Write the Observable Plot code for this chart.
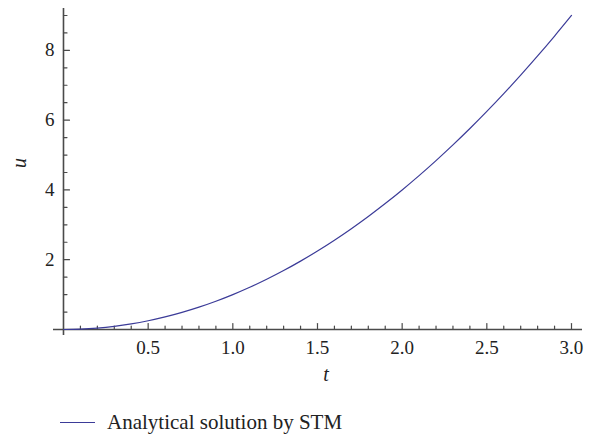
<!DOCTYPE html>
<html>
<head>
<meta charset="utf-8">
<script src="https://cdn.jsdelivr.net/npm/d3@7"></script>
<script src="https://cdn.jsdelivr.net/npm/@observablehq/plot@0.6"></script>
<style>
  body { margin: 0; background: #fff; }
  #chart { width: 591px; }
  .legend { height: 34px; display: flex; align-items: center; padding-left: 60px; font-family: "Liberation Serif", serif; font-size: 21px; color: #222; }
  .legend .sw { width: 35px; height: 0; border-top: 1.3px solid #3B3B98; margin-right: 12px; }
</style>
</head>
<body>
<div id="chart"></div>
<div class="legend"><span class="sw"></span><span>Analytical solution by STM</span></div>
<script>
// Data (analytical solution u(t))
const tValues = [0, 0.1, 0.2, 0.3, 0.4, 0.5, 0.6, 0.7, 0.8, 0.9, 1.0, 1.1, 1.2, 1.3, 1.4, 1.5, 1.6, 1.7, 1.8, 1.9, 2.0, 2.1, 2.2, 2.3, 2.4, 2.5, 2.6, 2.7, 2.8, 2.9, 3.0];
const uValues = [0, 0.01, 0.04, 0.09, 0.16, 0.25, 0.36, 0.49, 0.64, 0.81, 1.0, 1.21, 1.44, 1.69, 1.96, 2.25, 2.56, 2.89, 3.24, 3.61, 4.0, 4.41, 4.84, 5.29, 5.76, 6.25, 6.76, 7.29, 7.84, 8.41, 9.0];
const xTickLabels = ["0.5", "1.0", "1.5", "2.0", "2.5", "3.0"];
const xMajor = [0.5, 1.0, 1.5, 2.0, 2.5, 3.0];
const xMinor = [0.1, 0.2, 0.3, 0.4, 0.6, 0.7, 0.8, 0.9, 1.1, 1.2, 1.3, 1.4, 1.6, 1.7, 1.8, 1.9, 2.1, 2.2, 2.3, 2.4, 2.6, 2.7, 2.8, 2.9];
const yMajor = [2, 4, 6, 8];
const yTickLabels = ["2", "4", "6", "8"];
const yMinor = [0.5, 1, 1.5, 2.5, 3, 3.5, 4.5, 5, 5.5, 6.5, 7, 7.5, 8.5, 9];
const xLabel = "t";
const yLabel = "u";

const data = tValues.map((t, i) => ({t, u: uValues[i]}));
const axisColor = "#4a4a4a";
const lineColor = "#3B3B98";
const serif = "Liberation Serif";
const tickShape = {draw(ctx, l) { ctx.moveTo(0, 0); ctx.lineTo(0, -l); }};

const plot = Plot.plot({
  width: 591,
  height: 405,
  marginLeft: 53,
  marginRight: 9,
  marginTop: 8,
  marginBottom: 70,
  style: {background: "#fff"},
  x: {domain: [-0.059, 3.065], axis: null},
  y: {domain: [-0.172, 9.2], axis: null},
  marks: [
    Plot.ruleX([0], {stroke: axisColor, strokeWidth: 1.6}),
    Plot.ruleY([0], {stroke: axisColor, strokeWidth: 1.6}),
    Plot.vector(yMajor, {x: 0, y: d => d, rotate: 90, length: 6, anchor: "start", shape: tickShape, stroke: axisColor, strokeWidth: 1.2}),
    Plot.vector(yMinor, {x: 0, y: d => d, rotate: 90, length: 3.5, anchor: "start", shape: tickShape, stroke: axisColor, strokeWidth: 1.2}),
    Plot.vector(xMajor, {x: d => d, y: 0, rotate: 0, length: 6, anchor: "start", shape: tickShape, stroke: axisColor, strokeWidth: 1.2}),
    Plot.vector(xMinor, {x: d => d, y: 0, rotate: 0, length: 3.5, anchor: "start", shape: tickShape, stroke: axisColor, strokeWidth: 1.2}),
    Plot.text(yMajor, {x: 0, y: d => d, text: (d, i) => yTickLabels[i], dx: -9, textAnchor: "end", fill: "#222", fontFamily: serif, fontSize: 19}),
    Plot.text(xMajor, {x: d => d, y: 0, text: (d, i) => xTickLabels[i], dy: 18, fill: "#222", fontFamily: serif, fontSize: 19}),
    Plot.line(data, {x: "t", y: "u", stroke: lineColor, strokeWidth: 1.2, curve: "catmull-rom"}),
    Plot.text([yLabel], {frameAnchor: "left", text: d => d, dx: -34, dy: -4, rotate: -90, fontStyle: "italic", fontSize: 20, fontFamily: serif, fill: "#222"}),
    Plot.text([xLabel], {frameAnchor: "bottom", text: d => d, dx: 8, dy: 45, fontStyle: "italic", fontSize: 20, fontFamily: serif, fill: "#222"})
  ]
});
document.getElementById("chart").appendChild(plot);
</script>
</body>
</html>
